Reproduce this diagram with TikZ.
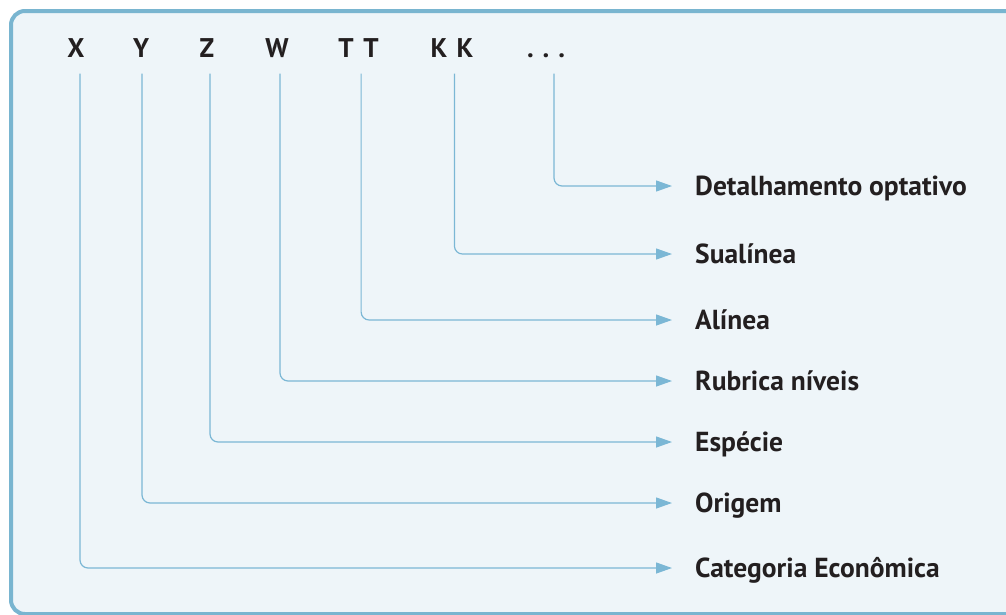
\documentclass[tikz,border=0pt]{standalone}
\usepackage{fontspec}
\setmainfont{PT Sans}
\usetikzlibrary{arrows.meta}

\definecolor{linkblue}{HTML}{7BB7D5}
\definecolor{framebg}{HTML}{EEF5F9}
\definecolor{framerule}{HTML}{79B5D0}
\definecolor{inkdark}{HTML}{231F20}

\begin{document}
\begin{tikzpicture}[x=1pt, y=-1pt,
    digit/.style={font=\fontsize{27}{32}\selectfont\bfseries, text=inkdark,
        inner sep=0pt, text height=19pt, text depth=0pt},
    field/.style={font=\fontsize{27.5}{32}\selectfont\bfseries, text=inkdark,
        anchor=west, inner sep=0pt, text height=19pt, text depth=0pt},
    link/.style={draw=linkblue, line width=1.2pt, rounded corners=8pt,
        -{Triangle[length=16pt, width=11pt]}, shorten <=16pt, shorten >=23pt},
]
    \useasboundingbox (0,0) rectangle (1006,614);

    %% moldura
    \fill[white] (0,0) rectangle (1006,614);
    \draw[framerule, line width=4pt, fill=framebg, rounded corners=14pt]
        (11,11) rectangle (1030,614);

    %% codigo
    \node[digit] (x)  at (76,48)  {X};
    \node[digit] (y)  at (141,48) {Y};
    \node[digit] (z)  at (207,48) {Z};
    \node[digit] (w)  at (277,48) {W};
    \node[digit] (t1) at (346,48) {T};
    \node[digit] (t2) at (371,48) {T};
    \node[digit] (k1) at (439,48) {K};
    \node[digit] (k2) at (465,48) {K};
    \node[digit] (dots) at (546,48) {.\hspace{9pt}.\hspace{9pt}.};

    %% descricoes
    \node[field] (det) at (695,186) {Detalhamento optativo};
    \node[field] (sub) at (695,254) {Sualínea};
    \node[field] (ali) at (695,320) {Alínea};
    \node[field] (rub) at (695,381) {Rubrica níveis};
    \node[field] (esp) at (695,442) {Espécie};
    \node[field] (ori) at (695,503) {Origem};
    \node[field] (cat) at (695,568) {Categoria Econômica};

    %% ligacoes
    \draw[link] ([xshift=4pt]x.south)  |- (cat.west);
    \draw[link] ([xshift=1pt]y.south)  |- (ori.west);
    \draw[link] ([xshift=3pt]z.south)  |- (esp.west);
    \draw[link] ([xshift=3pt]w.south)  |- (rub.west);
    \draw[link] ([xshift=-2pt]t2.south west) |- (ali.west);
    \draw[link] ([xshift=-2pt]k2.south west) |- (sub.west);
    \draw[link] ([xshift=8pt]dots.south) |- (det.west);
\end{tikzpicture}
\end{document}
